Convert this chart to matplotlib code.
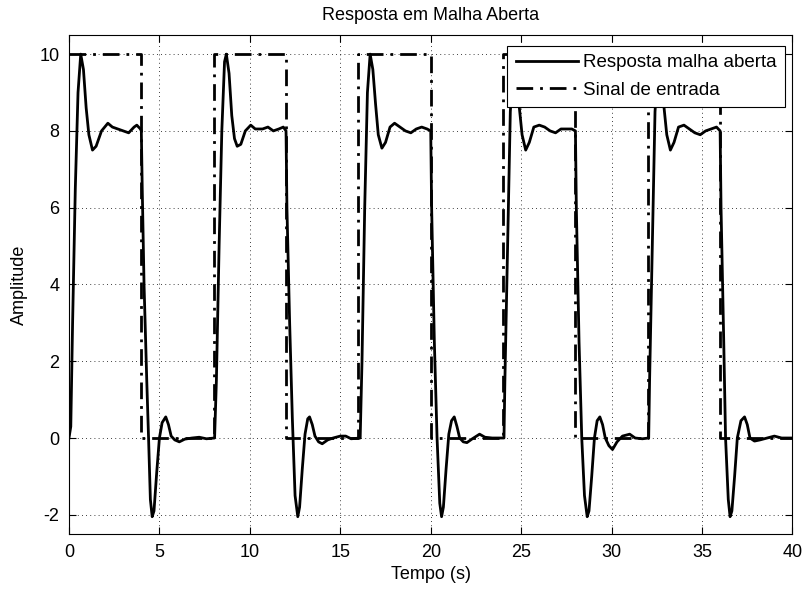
import matplotlib
matplotlib.use("Agg")
import matplotlib.pyplot as plt

plt.rcParams['font.family'] = ['Liberation Sans', 'DejaVu Sans']
plt.rcParams['axes.unicode_minus'] = False

# input square wave (switching instants and levels)
t_input = [0, 4, 4, 8, 8, 12, 12, 16, 16, 20, 20, 24, 24, 28, 28, 32, 32, 36, 36, 40]
y_input = [10, 10, 0, 0, 10, 10, 0, 0, 10, 10, 0, 0, 10, 10, 0, 0, 10, 10, 0, 0]

# open loop response
t_resp = [0.0, 0.1, 0.2, 0.35, 0.5, 0.65, 0.8, 0.95, 1.1, 1.3, 1.5, 1.8, 2.15, 2.4, 2.7, 3.0, 3.3, 3.6, 3.75, 3.95,
          4.0, 4.05, 4.15, 4.3, 4.4, 4.5, 4.6, 4.7, 4.85, 5.0, 5.15, 5.35, 5.5, 5.65, 5.85, 6.1, 6.4, 6.8, 7.2, 7.6, 8.05,
          8.15, 8.3, 8.45, 8.6, 8.7, 8.85, 9.0, 9.15, 9.3, 9.5, 9.75, 10.05, 10.3, 10.7, 11.0, 11.3, 11.6, 11.85, 12.0,
          12.05, 12.2, 12.35, 12.5, 12.65, 12.75, 12.9, 13.05, 13.2, 13.3, 13.45, 13.6, 13.8, 14.0, 14.3, 14.6, 15.0, 15.3, 15.6, 16.05,
          16.1, 16.2, 16.35, 16.5, 16.65, 16.8, 16.95, 17.1, 17.3, 17.5, 17.75, 18.0, 18.3, 18.6, 18.9, 19.2, 19.5, 19.8, 20.0,
          20.05, 20.2, 20.35, 20.5, 20.6, 20.7, 20.85, 21.0, 21.15, 21.3, 21.45, 21.6, 21.8, 22.0, 22.3, 22.7, 23.0, 23.4, 23.8, 24.05,
          24.1, 24.25, 24.4, 24.6, 24.75, 24.9, 25.05, 25.25, 25.45, 25.7, 26.0, 26.3, 26.6, 26.9, 27.2, 27.5, 27.8, 28.0,
          28.05, 28.2, 28.35, 28.5, 28.65, 28.75, 28.9, 29.05, 29.2, 29.35, 29.5, 29.65, 29.85, 30.05, 30.3, 30.6, 31.0, 31.3, 31.7, 32.05,
          32.1, 32.25, 32.4, 32.6, 32.75, 32.9, 33.05, 33.25, 33.45, 33.7, 34.0, 34.3, 34.6, 34.9, 35.2, 35.5, 35.8, 36.0,
          36.05, 36.2, 36.3, 36.45, 36.55, 36.65, 36.8, 36.95, 37.15, 37.35, 37.5, 37.65, 37.9, 38.2, 38.6, 39.0, 39.4, 40.0]
y_resp = [0.0, 0.3, 3.0, 6.5, 9.0, 10.0, 9.6, 8.6, 7.9, 7.5, 7.6, 8.0, 8.2, 8.1, 8.05, 8.0, 7.95, 8.1, 8.15, 8.05,
          8.0, 6.5, 4.0, 1.5, 0.0, -1.6, -2.05, -1.9, -0.9, 0.0, 0.4, 0.55, 0.35, 0.05, -0.05, -0.1, -0.03, 0.0, 0.02, -0.02, 0.0,
          1.5, 5.0, 8.0, 9.8, 10.0, 9.5, 8.4, 7.8, 7.6, 7.65, 8.0, 8.15, 8.05, 8.05, 8.1, 8.0, 8.05, 8.1, 8.0,
          6.0, 3.0, 0.5, -1.5, -2.05, -1.8, -0.8, 0.1, 0.5, 0.55, 0.35, 0.05, -0.1, -0.15, -0.05, 0.0, 0.05, 0.05, -0.02, 0.0,
          0.0, 2.0, 6.0, 9.0, 10.0, 9.6, 8.7, 7.9, 7.55, 7.7, 8.1, 8.2, 8.1, 8.0, 7.95, 8.05, 8.1, 8.05, 8.0,
          6.0, 2.5, 0.0, -1.7, -2.05, -1.8, -0.8, 0.1, 0.45, 0.55, 0.3, 0.0, -0.1, -0.12, -0.02, 0.1, 0.02, 0.0, 0.0, 0.0,
          1.5, 5.0, 8.5, 10.0, 9.6, 8.6, 7.9, 7.5, 7.7, 8.1, 8.15, 8.1, 8.0, 7.95, 8.05, 8.05, 8.05, 8.0,
          6.0, 2.5, 0.0, -1.5, -2.05, -1.9, -1.0, 0.0, 0.45, 0.55, 0.35, 0.0, -0.2, -0.3, -0.1, 0.05, 0.1, 0.0, -0.02, 0.0,
          1.5, 5.0, 8.5, 10.0, 9.6, 8.6, 7.9, 7.5, 7.7, 8.1, 8.15, 8.05, 7.95, 7.9, 8.0, 8.05, 8.1, 8.0,
          6.0, 2.5, 0.0, -1.6, -2.05, -1.9, -1.0, 0.0, 0.45, 0.55, 0.35, 0.0, -0.08, -0.05, 0.0, 0.05, 0.0, 0.0]

x_ticks = [0, 5, 10, 15, 20, 25, 30, 35, 40]
y_ticks = [-2, 0, 2, 4, 6, 8, 10]

fig = plt.figure(figsize=(8.03, 5.92), dpi=100)
ax = fig.add_axes([0.0859, 0.098, 0.901, 0.843])

ax.plot(t_resp, y_resp, color='black', lw=2, label='Resposta malha aberta')
ax.plot(t_input, y_input, color='black', lw=2, dashes=(6, 2.5, 1, 2.5), label='Sinal de entrada')

ax.set_xlim(0, 40)
ax.set_ylim(-2.5, 10.5)
ax.set_xticks(x_ticks)
ax.set_yticks(y_ticks)
ax.grid(True, color='black', linestyle=(0, (1, 4)), lw=0.6)
ax.tick_params(direction='in', length=5, width=0.8, top=True, right=True, labelsize=13, pad=7)
for s in ax.spines.values():
    s.set_linewidth(0.8)

ax.set_title('Resposta em Malha Aberta', fontsize=13, pad=11)
ax.set_xlabel('Tempo (s)', fontsize=13, labelpad=4)
ax.set_ylabel('Amplitude', fontsize=13, labelpad=8)

leg = ax.legend(loc='upper right', bbox_to_anchor=(0.990, 0.978), fontsize=13.5,
                frameon=True, fancybox=False, framealpha=1, edgecolor='black',
                handlelength=3.3, handletextpad=0.3, labelspacing=0.55, borderpad=0.45,
                borderaxespad=0)
leg.get_frame().set_linewidth(0.8)

fig.savefig('out.png', dpi=100)
